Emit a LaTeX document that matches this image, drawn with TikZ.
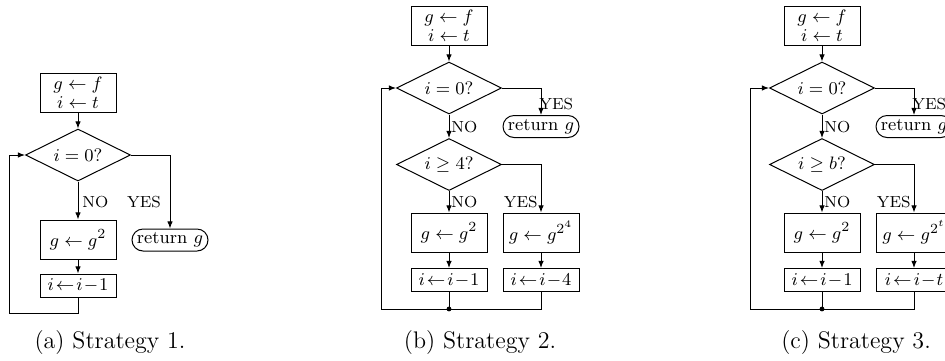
\documentclass[tikz,border=0pt]{standalone}
\usetikzlibrary{shapes.geometric,shapes.misc,arrows.meta}
\DeclareMathSizes{9}{9}{7}{5}
\DeclareMathSizes{8}{8}{6}{5}
\begin{document}
\begin{tikzpicture}[x=0.5pt,y=-0.5pt,
  every node/.style={font=\fontsize{9}{9.5}\selectfont, inner sep=0pt},
  box/.style={draw, line width=0.5pt, minimum width=38pt, minimum height=#1, align=center},
  box/.default=19.5pt,
  dia/.style={draw, line width=0.5pt, diamond, aspect=2, minimum width=52.5pt, minimum height=26pt},
  ret/.style={draw, line width=0.5pt, rounded rectangle, minimum width=38pt, minimum height=11pt},
  lbl/.style={font=\fontsize{8}{9}\selectfont},
  arr/.style={-{Latex[length=3.6pt,width=2.8pt]}, line width=0.5pt},
  ln/.style={line width=0.5pt},
  jdot/.style={circle, fill, inner sep=0pt, minimum size=2.4pt},
  captxt/.style={font=\fontsize{12}{14}\selectfont}
]
\path[use as bounding box] (0,0) rectangle (945,360);
\fill[white] (0,0) rectangle (945,360);
\clip (0,0) rectangle (945,360);

% ---------- Strategy 1 ----------
\node[box] (s1) at (78,93) {$g \leftarrow f$\\$i \leftarrow t$};
\node[dia] (d1) at (78,155) {$i = 0?$};
\node[ret] (r1) at (170,240) {return $g$};
\node[box] (g1) at (78,239.5) {$g \leftarrow g^2$};
\node[box=11.5pt] (i1) at (78,285.5) {$i\mskip2mu{\leftarrow}\mskip2mu i\mskip1mu{-}\mskip1mu 1$};
\node[lbl, anchor=west] (no1) at (82,202) {NO};
\node[lbl] (yes1) at (144,202) {YES};
\coordinate (l1) at (9,313);
\draw[arr] (s1.south) -- (d1.north);
\draw[arr] (d1.east) -| (r1.north);
\draw[arr] (d1.south) -- (g1.north);
\draw[arr] (g1.south) -- (i1.north);
\draw[arr] (i1.south) |- (l1) |- (d1.west);
\node[captxt] (c1) at (110,343) {(a) Strategy 1.};

% ---------- Strategy 2 ----------
\node[box] (s2) at (449,26) {$g \leftarrow f$\\$i \leftarrow t$};
\node[dia] (d21) at (449,88) {$i = 0?$};
\node[ret] (r2) at (541,126.5) {return $g$};
\node[dia] (d22) at (449,164.5) {$i \geq 4?$};
\node[box] (g21) at (449,232.5) {$g \leftarrow g^2$};
\node[box] (g22) at (541,232.5) {$g \leftarrow g^{2^4}$};
\node[box=11.5pt] (i21) at (449,280) {$i\mskip2mu{\leftarrow}\mskip2mu i\mskip1mu{-}\mskip1mu 1$};
\node[box=11.5pt] (i22) at (541,280) {$i\mskip2mu{\leftarrow}\mskip2mu i\mskip1mu{-}\mskip1mu 4$};
\node[jdot] (j2) at (449,309) {};
\node[lbl, anchor=west] (yes21) at (539,104) {YES};
\node[lbl, anchor=west] (no21) at (451,127) {NO};
\node[lbl, anchor=east] (yes22) at (538,202) {YES};
\node[lbl, anchor=west] (no22) at (451,202) {NO};
\coordinate (l2) at (381,309);
\draw[arr] (s2.south) -- (d21.north);
\draw[arr] (d21.east) -| (r2.north);
\draw[arr] (d21.south) -- (d22.north);
\draw[arr] (d22.east) -| (g22.north);
\draw[arr] (d22.south) -- (g21.north);
\draw[arr] (g21.south) -- (i21.north);
\draw[arr] (g22.south) -- (i22.north);
\draw[ln] (i21.south) -- (j2.center);
\draw[ln] (i22.south) |- (j2.center);
\draw[arr] (j2.center) -- (l2) |- (d21.west);
\node[captxt] (c2) at (480,343) {(b) Strategy 2.};

% ---------- Strategy 3 ----------
\node[box] (s3) at (822,26) {$g \leftarrow f$\\$i \leftarrow t$};
\node[dia] (d31) at (822,88) {$i = 0?$};
\node[ret] (r3) at (914,126.5) {return $g$};
\node[dia] (d32) at (822,164.5) {$i \geq b?$};
\node[box] (g31) at (822,232.5) {$g \leftarrow g^2$};
\node[box] (g32) at (914,232.5) {$g \leftarrow g^{2^t}$};
\node[box=11.5pt] (i31) at (822,280) {$i\mskip2mu{\leftarrow}\mskip2mu i\mskip1mu{-}\mskip1mu 1$};
\node[box=11.5pt] (i32) at (914,280) {$i\mskip2mu{\leftarrow}\mskip2mu i\mskip1mu{-}\mskip1mu t$};
\node[jdot] (j3) at (822,309) {};
\node[lbl, anchor=west] (yes31) at (912,104) {YES};
\node[lbl, anchor=west] (no31) at (824,127) {NO};
\node[lbl, anchor=east] (yes32) at (911,202) {YES};
\node[lbl, anchor=west] (no32) at (824,202) {NO};
\coordinate (l3) at (750,309);
\draw[arr] (s3.south) -- (d31.north);
\draw[arr] (d31.east) -| (r3.north);
\draw[arr] (d31.south) -- (d32.north);
\draw[arr] (d32.east) -| (g32.north);
\draw[arr] (d32.south) -- (g31.north);
\draw[arr] (g31.south) -- (i31.north);
\draw[arr] (g32.south) -- (i32.north);
\draw[ln] (i31.south) -- (j3.center);
\draw[ln] (i32.south) |- (j3.center);
\draw[arr] (j3.center) -- (l3) |- (d31.west);
\node[captxt] (c3) at (856,343) {(c) Strategy 3.};
\end{tikzpicture}
\end{document}
